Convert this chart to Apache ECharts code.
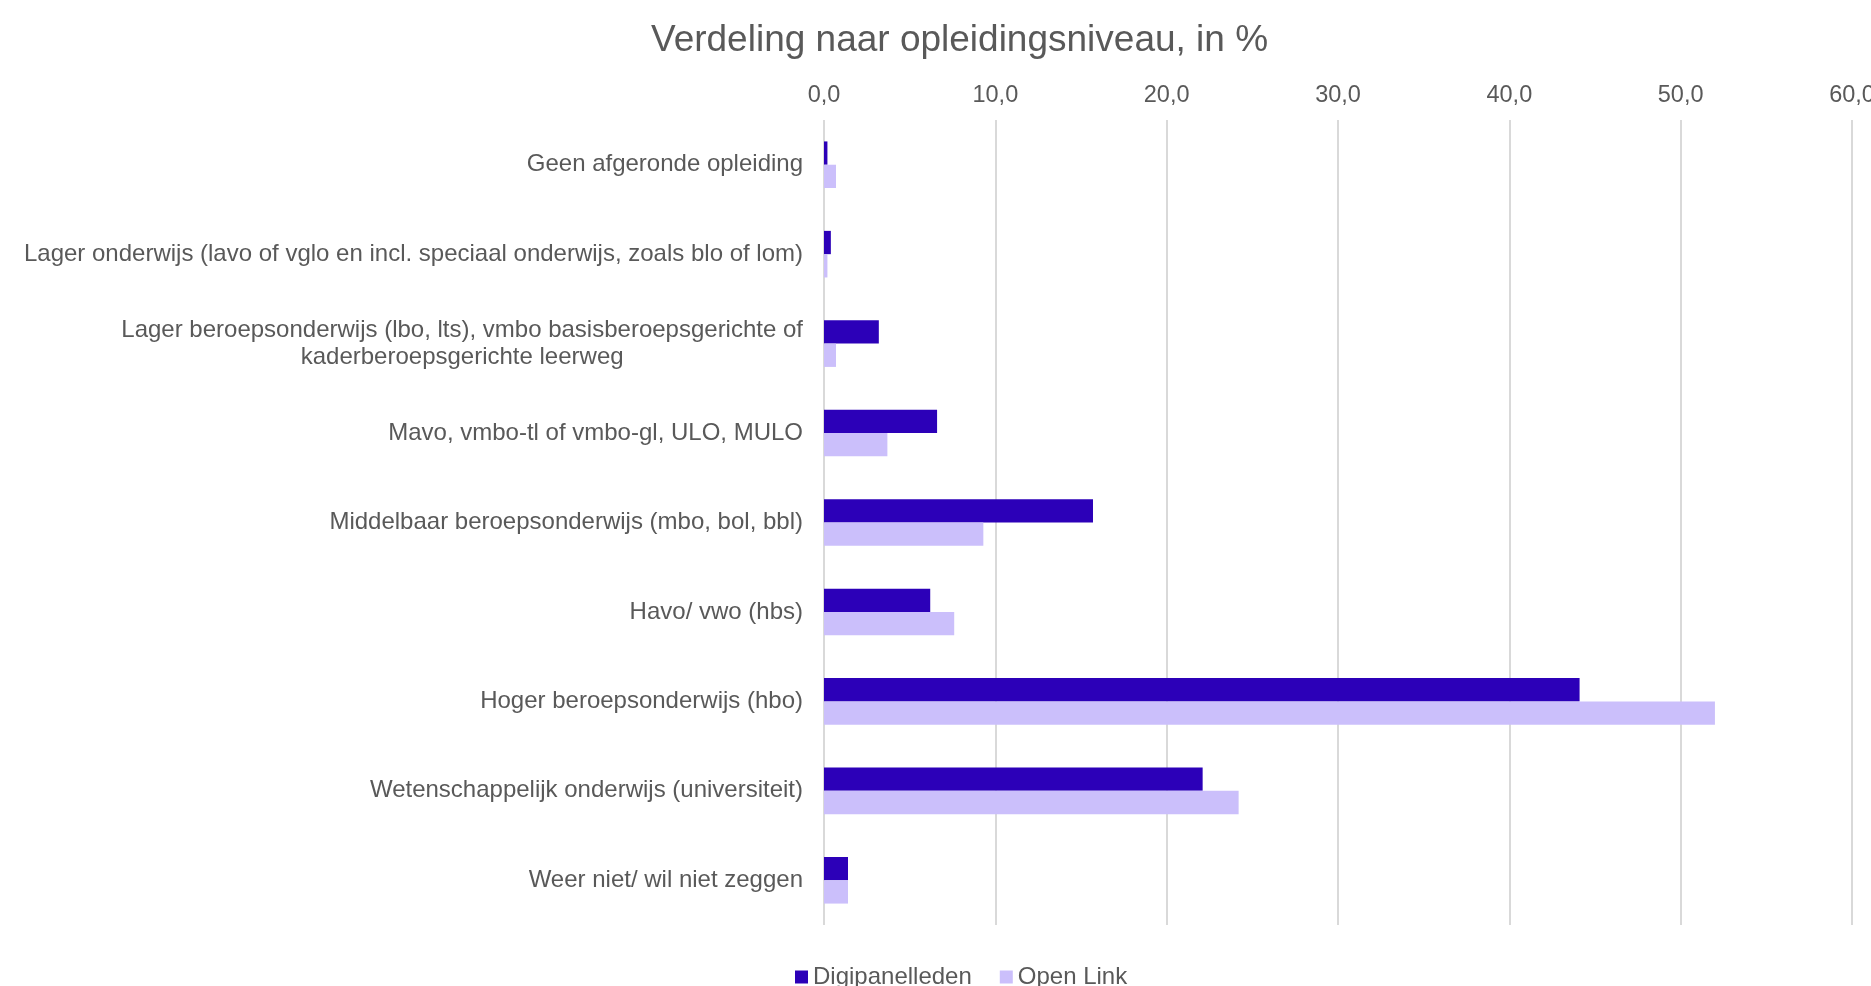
<!DOCTYPE html>
<html>
<head>
<meta charset="utf-8">
<script src="https://cdn.jsdelivr.net/npm/echarts@6/dist/echarts.min.js"></script>
<style>
  html, body { margin: 0; padding: 0; background: #ffffff; }
  #chart { width: 1871px; height: 986px; }
</style>
</head>
<body>
<div id="chart"></div>
<script>
const titleText = 'Verdeling naar opleidingsniveau, in %';
const categories = [
  'Geen afgeronde opleiding',
  'Lager onderwijs (lavo of vglo en incl. speciaal onderwijs, zoals blo of lom)',
  'Lager beroepsonderwijs (lbo, lts), vmbo basisberoepsgerichte of\nkaderberoepsgerichte leerweg',
  'Mavo, vmbo-tl of vmbo-gl, ULO, MULO',
  'Middelbaar beroepsonderwijs (mbo, bol, bbl)',
  'Havo/ vwo (hbs)',
  'Hoger beroepsonderwijs (hbo)',
  'Wetenschappelijk onderwijs (universiteit)',
  'Weer niet/ wil niet zeggen'
];
const seriesNames = ['Digipanelleden', 'Open Link'];
const digipanelleden = [0.2, 0.4, 3.2, 6.6, 15.7, 6.2, 44.1, 22.1, 1.4];
const openLink = [0.7, 0.2, 0.7, 3.7, 9.3, 7.6, 52.0, 24.2, 1.4];
const xTicks = [0, 10, 20, 30, 40, 50, 60];

const FONT = '"Liberation Sans", Arial, sans-serif';
const TEXT = '#595959';
const DARK = '#2C00B8';
const LIGHT = '#CBBFFB';

const chart = echarts.init(document.getElementById('chart'), null, { renderer: 'canvas' });
chart.setOption({
  backgroundColor: '#ffffff',
  animation: false,
  title: {
    text: titleText,
    left: 646,
    top: 17,
    textStyle: { fontFamily: FONT, fontSize: 37, fontWeight: 'normal', color: TEXT }
  },
  legend: {
    data: seriesNames,
    left: 790,
    top: 960,
    itemWidth: 13,
    itemHeight: 13,
    itemGap: 28,
    icon: 'rect',
    textStyle: { fontFamily: FONT, fontSize: 24, color: TEXT }
  },
  grid: { left: 824, right: 19, top: 120, bottom: 61, containLabel: false, outerBoundsMode: 'none' },
  xAxis: {
    type: 'value',
    position: 'top',
    min: xTicks[0],
    max: xTicks[xTicks.length - 1],
    interval: xTicks[1] - xTicks[0],
    axisLine: { show: false },
    axisTick: { show: false },
    splitLine: { show: true, lineStyle: { color: '#D9D9D9', width: 2 } },
    axisLabel: {
      margin: 12,
      fontFamily: FONT, fontSize: 23.5, color: TEXT,
      formatter: v => v.toFixed(1).replace('.', ',')
    }
  },
  yAxis: {
    type: 'category',
    data: categories,
    inverse: true,
    axisLine: { show: false },
    axisTick: { show: false },
    splitLine: { show: false },
    axisLabel: {
      margin: 21,
      fontFamily: FONT, fontSize: 24, color: TEXT, lineHeight: 27,
      formatter: v => v.indexOf('\n') >= 0 ? v.split('\n').map(s => '{c|' + s + '}').join('\n') : v,
      rich: { c: { align: 'center', fontFamily: FONT, fontSize: 24, color: TEXT, lineHeight: 27 } }
    }
  },
  series: [
    {
      name: seriesNames[0], type: 'bar', data: digipanelleden,
      barWidth: 23.3, barGap: '0%',
      itemStyle: { color: DARK }
    },
    {
      name: seriesNames[1], type: 'bar', data: openLink,
      barWidth: 23.3, barGap: '0%',
      itemStyle: { color: LIGHT }
    }
  ]
});
</script>
</body>
</html>
